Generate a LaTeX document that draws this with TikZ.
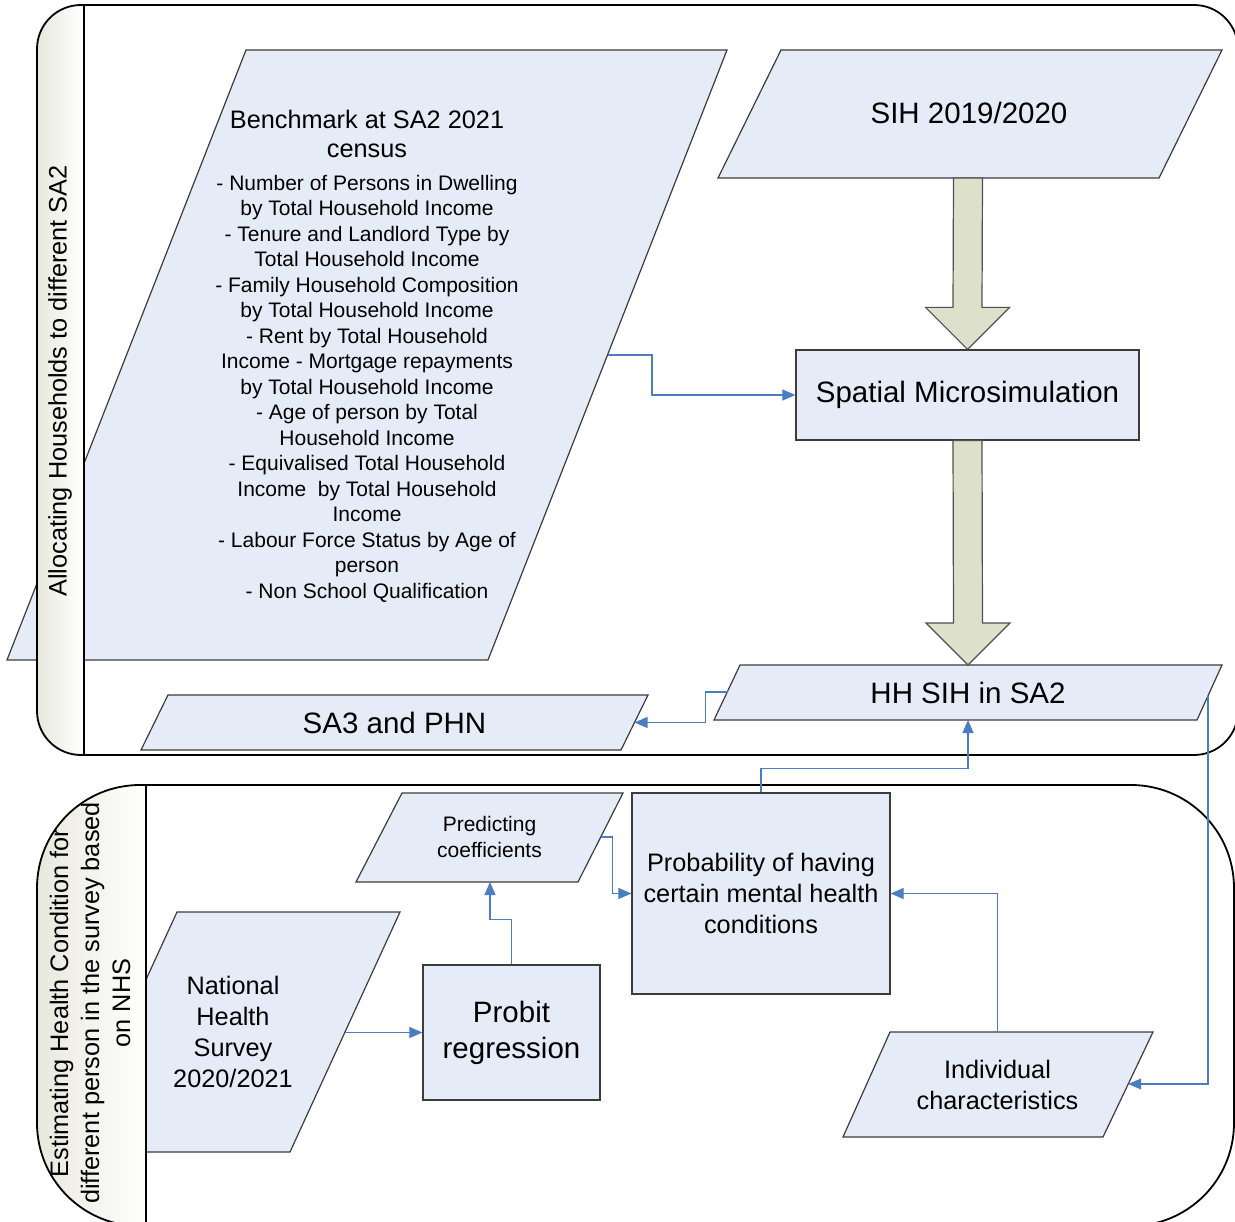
\documentclass[tikz,border=0pt]{standalone}
\usepackage{fontspec}
\setmainfont{Liberation Sans}
\usetikzlibrary{arrows.meta,calc}
\definecolor{shapefill}{RGB}{230,236,247}
\definecolor{shapeline}{RGB}{60,60,60}
\definecolor{connblue}{RGB}{74,126,192}
\definecolor{arrowfill}{RGB}{221,225,203}
\definecolor{arrowline}{RGB}{80,80,80}
\definecolor{hdrfill}{RGB}{232,233,220}
\newcommand\fsL{\fontsize{29.5}{36}\selectfont}
\newcommand\fsM{\fontsize{25.3}{31}\selectfont}
\newcommand\fsS{\fontsize{21}{25.5}\selectfont}
\tikzset{
  shp/.style={draw=shapeline, fill=shapefill, line width=1.2pt, line join=miter},
  txt/.style={inner sep=0pt, text=black, align=center},
  conn/.style={draw=connblue, line width=1.1pt, -{Triangle[length=13pt,width=11pt]}},
  bigarrow/.style={draw=arrowline, fill=arrowfill, line width=1.2pt, line join=miter},
  lane/.style={draw=black, line width=1.8pt},
  hdrline/.style={draw=black, line width=1.4pt},
}
\begin{document}
\begin{tikzpicture}[x=1pt,y=-1pt]
\useasboundingbox (0,0) rectangle (1235,1222);
\fill[white] (0,0) rectangle (1235,1222);

% ---------- top lane content ----------
% Benchmark
\draw[shp] (246,50) -- (727,50) -- (488,660) -- (7,660) -- cycle;
\node[txt, font=\fsS] (bench) at (367,356) {{\fsM Benchmark at SA2 2021}\\[4pt]{\fsM census}\\[7pt]- Number of Persons in Dwelling\\by Total Household Income\\- Tenure and Landlord Type by\\Total Household Income\\- Family Household Composition\\by Total Household Income\\- Rent by Total Household\\Income - Mortgage repayments\\by Total Household Income\\- Age of person by Total\\Household Income\\- Equivalised Total Household\\Income\ \ by Total Household\\Income\\- Labour Force Status by Age of\\person\\- Non School Qualification};
\coordinate (benchE) at (607.5,355);

% SIH
\draw[shp] (781,50) -- (1222,50) -- (1159,178) -- (718,178) -- cycle;
\node[txt, font=\fsL] (sih) at (969,113) {SIH 2019/2020};
\coordinate (sihS) at (968,178);

% Spatial Microsimulation
\node[shp, txt, minimum width=343pt, minimum height=90pt, font=\fsL] (sim) at (967.5,395) {Spatial Microsimulation};

% HH SIH in SA2
\draw[shp] (740,665) -- (1222,665) -- (1197,720) -- (714,720) -- cycle;
\node[txt, font=\fsL] (hh) at (968,692.5) {HH SIH in SA2};
\coordinate (hhW) at (727.5,692);
\coordinate (hhS) at (968,720);
\coordinate (hhN) at (968,665);
\coordinate (hhE) at (1208,695.5);

% SA3 and PHN
\draw[shp] (168,695) -- (648,695) -- (621,750) -- (141,750) -- cycle;
\node[txt, font=\fsL] (sa3) at (394.5,722.5) {SA3 and PHN};
\coordinate (sa3E) at (634.5,722.5);

% big arrows
\draw[bigarrow] ([xshift=-14.5pt]sihS) -- ([xshift=14.5pt]sihS)
  -- ([xshift=14.5pt,yshift=42pt]sim.north) -- ([xshift=42pt,yshift=42pt]sim.north)
  -- (sim.north) -- ([xshift=-42pt,yshift=42pt]sim.north)
  -- ([xshift=-14.5pt,yshift=42pt]sim.north) -- cycle;
\draw[bigarrow] ([xshift=-14.5pt]sim.south) -- ([xshift=14.5pt]sim.south)
  -- ([xshift=14.5pt,yshift=42pt]hhN) -- ([xshift=42pt,yshift=42pt]hhN)
  -- (hhN) -- ([xshift=-42pt,yshift=42pt]hhN)
  -- ([xshift=-14.5pt,yshift=42pt]hhN) -- cycle;

% ---------- bottom lane content ----------
% Predicting coefficients
\draw[shp] (402,793) -- (623,793) -- (578,882) -- (356,882) -- cycle;
\node[txt, font=\fsS] (pred) at (489.5,837) {Predicting\\coefficients};
\coordinate (predE) at (600.8,837);
\coordinate (predS) at (490,882);

% Probability
\node[shp, txt, minimum width=258pt, minimum height=201pt, font=\fsM] (prob) at (761,893.5) {Probability of having\\certain mental health\\conditions};

% National Health Survey
\draw[shp] (177,912) -- (400,912) -- (290,1152) -- (67,1152) -- cycle;
\node[txt, font=\fsM] (nhs) at (233,1032) {National\\Health\\Survey\\2020/2021};
\coordinate (nhsE) at (345,1032.5);

% Probit regression
\node[shp, txt, minimum width=177pt, minimum height=135pt, font=\fsL] (probit) at (511.5,1032.5) {Probit\\regression};

% Individual characteristics
\draw[shp] (890,1032) -- (1153,1032) -- (1103,1137) -- (843,1137) -- cycle;
\node[txt, font=\fsM] (ind) at (997.5,1084.5) {Individual\\characteristics};
\coordinate (indN) at (997.5,1032);
\coordinate (indE) at (1128.2,1084);

% ---------- lanes: header shading, outlines ----------
\begin{scope}
  \clip[rounded corners=44pt] (37,5) rectangle (1238,755);
  \shade[left color=hdrfill, right color=white] (37,5) rectangle (84,755);
\end{scope}
\begin{scope}
  \clip[rounded corners=103pt] (37,785) rectangle (1234,1226);
  \shade[left color=hdrfill, right color=white] (37,785) rectangle (146,1226);
\end{scope}
\draw[lane, rounded corners=44pt] (37,5) rectangle (1238,755);
\draw[lane, rounded corners=103pt] (37,785) rectangle (1234,1226);
\draw[hdrline] (84,5) -- (84,755);
\draw[hdrline] (146,785) -- (146,1226);

\node[txt, rotate=90, font=\fsM] (lane1) at (60,381) {Allocating Households to different SA2};
\node[txt, rotate=90, font=\fsM] (lane2) at (90,1003) {Estimating Health Condition for\\different person in the survey based\\on NHS};

% ---------- connectors ----------
\draw[conn] (benchE) -- ++(44.5,0) |- (sim.west);
\draw[conn] (hhW) -- ++(-22,0) |- (sa3E);
\draw[conn] (prob.north) -- ++(0,-24) -| (hhS);
\draw[conn] (predE) -- ++(12,0) |- (prob.west);
\draw[conn] (probit.north) -- ++(0,-45) -| (predS);
\draw[conn] (nhsE) -- (probit.west);
\draw[conn] (indN) |- (prob.east);
\draw[conn] (hhE) |- (indE);
\end{tikzpicture}
\end{document}
